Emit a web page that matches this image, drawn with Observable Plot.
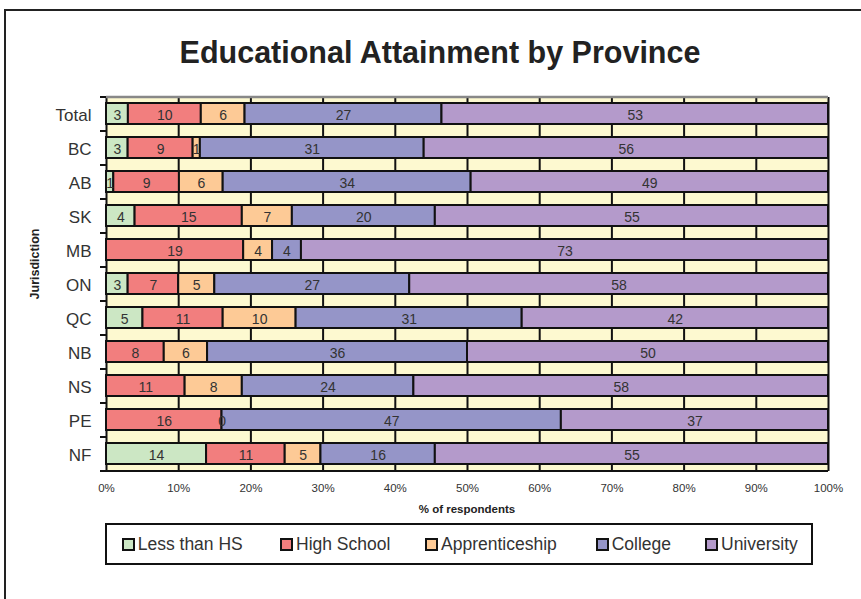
<!DOCTYPE html>
<html>
<head>
<meta charset="utf-8">
<script src="https://cdn.jsdelivr.net/npm/d3@7"></script>
<script src="https://cdn.jsdelivr.net/npm/@observablehq/plot@0.6"></script>
<style>
  html, body { margin: 0; padding: 0; background: #fff; }
  body { font-family: "Liberation Sans", Arial, sans-serif; }
  #wrap { position: relative; width: 861px; height: 599px; overflow: hidden; }
  #frame { position: absolute; left: 4px; top: 9px; width: 900px; height: 700px; border-left: 2px solid #222; border-top: 2px solid #222; }
  #title { position: absolute; left: 0; top: 37px; width: 880px; text-align: center; font-weight: bold; font-size: 30.5px; line-height: 30.5px; color: #222; }
  #chart { position: absolute; left: 0; top: 0; }
  #xlabel { position: absolute; left: 367px; width: 200px; top: 503px; text-align: center; font-weight: bold; font-size: 11.5px; color: #222; }
  #ylabel { position: absolute; left: 35px; top: 264px; transform: translate(-50%, -50%) rotate(-90deg); font-weight: bold; font-size: 12.5px; color: #222; white-space: nowrap; }
  #legend { position: absolute; left: 105px; top: 523px; width: 708px; height: 42px; box-sizing: border-box; border: 2px solid #111; background: #fff; }
  .item { position: absolute; top: 0; height: 38px; display: flex; align-items: center; font-size: 17.5px; color: #333; white-space: nowrap; }
  .sw { width: 9px; height: 9px; border: 2px solid #111; margin-right: 3px; }
</style>
</head>
<body>
<div id="wrap">
  <div id="frame"></div>
  <div id="title">Educational Attainment by Province</div>
  <div id="chart"></div>
  <div id="xlabel">% of respondents</div>
  <div id="ylabel">Jurisdiction</div>
  <div id="legend"></div>
</div>
<script>
// ---- Data ----
const provinces = ["Total", "BC", "AB", "SK", "MB", "ON", "QC", "NB", "NS", "PE", "NF"];
const categories = ["Less than HS", "High School", "Apprenticeship", "College", "University"];
const lessThanHS     = [3, 3, 1, 4, null, 3, 5, null, null, null, 14];
const highSchool     = [10, 9, 9, 15, 19, 7, 11, 8, 11, 16, 11];
const apprenticeship = [6, 1, 6, 7, 4, 5, 10, 6, 8, 0, 5];
const college        = [27, 31, 34, 20, 4, 27, 31, 36, 24, 47, 16];
const university     = [53, 56, 49, 55, 73, 58, 42, 50, 58, 37, 55];
const xTicks = [0, 0.1, 0.2, 0.3, 0.4, 0.5, 0.6, 0.7, 0.8, 0.9, 1];
const colors = ["#CCE7C4", "#F27E7E", "#FDCA96", "#9595C8", "#B49ACB"];

const series = [lessThanHS, highSchool, apprenticeship, college, university];
const data = provinces.flatMap((p, i) =>
  series.map((s, j) => ({prov: p, cat: categories[j], value: s[i]}))
).filter(d => d.value != null);

const plotLeft = 106, plotRight = 828;
const tickLen = 6 / (plotRight - plotLeft);

const chart = Plot.plot({
  width: 861,
  height: 599,
  marginTop: 97,
  marginBottom: 128,
  marginLeft: plotLeft,
  marginRight: 861 - plotRight,
  style: {fontFamily: "'Liberation Sans', Arial, sans-serif", background: "transparent", overflow: "visible", color: "#333"},
  x: {domain: [0, 1], axis: null},
  y: {domain: provinces, paddingInner: 0.37, paddingOuter: 0.185, axis: null},
  color: {domain: categories, range: colors},
  marks: [
    Plot.frame({fill: "#FDF9D0", stroke: null}),
    Plot.ruleX(xTicks, {stroke: "#111", strokeWidth: 2}),
    Plot.barX(data, Plot.stackX({
      x: "value", y: "prov", fill: "cat", order: categories, offset: "normalize",
      stroke: "#111", strokeWidth: 2
    })),
    Plot.text(data, Plot.stackX({
      x: "value", y: "prov", z: "cat", order: categories, offset: "normalize",
      text: d => String(d.value), fontSize: 14, fill: "#333", dy: 2
    })),
    Plot.ruleY([provinces[0]], {dy: -17, stroke: "#888", strokeWidth: 2.5}),
    Plot.ruleY([provinces[provinces.length - 1]], {dy: 17, stroke: "#111", strokeWidth: 2}),
    Plot.ruleY(provinces, {x1: -tickLen, x2: 0, dy: 17, stroke: "#111", strokeWidth: 2}),
    Plot.ruleY([provinces[0]], {x1: -tickLen, x2: 0, dy: -17, stroke: "#111", strokeWidth: 2}),
    Plot.axisX({ticks: xTicks, tickFormat: d => Math.round(d * 100) + "%", tickSize: 0, tickPadding: 12, fontSize: 11.5, label: null}),
    Plot.axisY({tickSize: 0, tickPadding: 15, fontSize: 17, label: null, dy: 2})
  ]
});
document.getElementById("chart").appendChild(chart);

// ---- Legend ----
const legendX = [121.7, 280, 425, 595.7, 705];
const legend = document.getElementById("legend");
categories.forEach((c, i) => {
  const it = document.createElement("div");
  it.className = "item";
  it.style.left = (legendX[i] - 107) + "px";
  const sw = document.createElement("div");
  sw.className = "sw";
  sw.style.background = colors[i];
  const tx = document.createElement("span");
  tx.textContent = c;
  it.appendChild(sw);
  it.appendChild(tx);
  legend.appendChild(it);
});
</script>
</body>
</html>
